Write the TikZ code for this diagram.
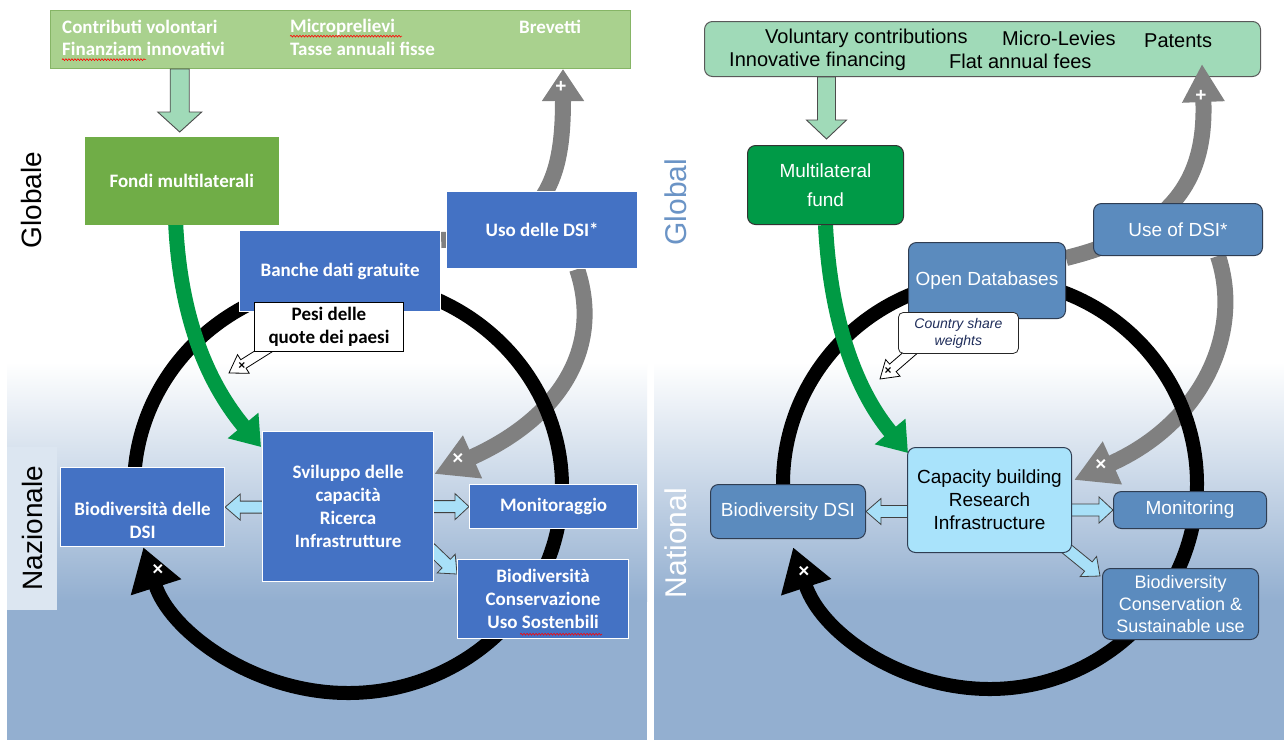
\documentclass[tikz,border=0pt]{standalone}
\usepackage{fontspec}
\newfontfamily\calib{Carlito}
\newfontfamily\arialf{Liberation Sans}
\usetikzlibrary{arrows.meta,calc,decorations.pathmorphing}

\pgfdeclarelayer{background}
\pgfdeclarelayer{flows}
\pgfsetlayers{background,flows,main}

\definecolor{itgreen}{HTML}{70AD47}
\definecolor{itlgreen}{HTML}{A9D18E}
\definecolor{itedge}{HTML}{86B566}
\definecolor{itblue}{HTML}{4472C4}
\definecolor{mint}{HTML}{A0DAB8}
\definecolor{flowgreen}{HTML}{009A44}
\definecolor{flowgray}{HTML}{808080}
\definecolor{skyblue}{HTML}{A8E0F8}
\definecolor{enblue}{HTML}{5B8BBE}
\definecolor{enedge}{HTML}{2F3D52}
\definecolor{capblue}{HTML}{A9E3FB}
\definecolor{engreen}{HTML}{009A47}
\definecolor{bgblue}{HTML}{93AFD0}
\definecolor{labblue}{HTML}{6B94C6}
\definecolor{labbox}{HTML}{DCE6F1}
\definecolor{navy}{HTML}{1F2D5A}

\newcommand{\itfont}{\calib\bfseries\fontsize{19}{23}\selectfont}
\newcommand{\enfont}{\arialf\fontsize{19}{23}\selectfont}

% block arrow: [style]{from}{to}{shaft half width}{head half width}{head length}
\newcommand{\blockarrow}[6][]{%
  \coordinate (neck) at ($(#3)!#6!(#2)$);
  \draw[#1] ($(#2)!#4!90:(#3)$) -- ($(neck)!#4!90:(#3)$) -- ($(neck)!#5!90:(#3)$)
    -- (#3) -- ($(neck)!#5!-90:(#3)$) -- ($(neck)!#4!-90:(#3)$) -- ($(#2)!#4!-90:(#3)$) -- cycle;%
}

\tikzset{
  itbox/.style={rectangle, anchor=north west, draw=white, line width=1.2pt,
    fill=itblue, text=white, font=\itfont, align=center, inner sep=1pt},
  enbox/.style={rectangle, rounded corners=8pt, anchor=north west, draw=enedge,
    line width=1pt, fill=enblue, text=white, font=\enfont, align=center, inner sep=1pt},
  ittext/.style={anchor=west, inner sep=0pt, text=white, font=\itfont},
  entext/.style={anchor=west, inner sep=0pt, text=black, font=\arialf\fontsize{20}{24}\selectfont},
  sidelabel/.style={rotate=90, inner sep=0pt},
  ring/.style={draw=black, line width=14pt, -{Triangle[width=50pt,length=42pt]}},
  grayflow/.style={draw=flowgray, line width=16pt, -{Triangle[width=40pt,length=32pt]}},
  greenflow/.style={draw=flowgreen, line width=15pt, -{Triangle[width=38pt,length=28pt]}},
  fatmint/.style={draw=black!70, line width=0.9pt, fill=mint},
  fatsky/.style={draw=black!75, line width=0.8pt, fill=skyblue},
  fatwhite/.style={draw=black, line width=0.8pt, fill=white},
  signmark/.style={inner sep=0pt, text=white, font=\arialf\bfseries\fontsize{19}{19}\selectfont},
  smallmark/.style={inner sep=0pt, text=black, font=\arialf\bfseries\fontsize{12}{12}\selectfont},
  squig/.style={draw=red, line width=0.6pt, decorate,
    decoration={snake, amplitude=0.9pt, segment length=3pt}}
}

\begin{document}
\begin{tikzpicture}[x=1pt, y=-1pt]
  \useasboundingbox (0,0) rectangle (1284,740);

  \begin{pgfonlayer}{background}
    % panels
    \fill[white] (0,0) rectangle (1284,740);
    \shade[top color=white, bottom color=bgblue] (7,362) rectangle (647,601);
    \fill[bgblue] (7,600) rectangle (647,740);
    \shade[top color=white, bottom color=bgblue] (654,362) rectangle (1284,601);
    \fill[bgblue] (654,600) rectangle (1284,740);

    % side labels
    \node[sidelabel, font=\arialf\fontsize{28}{30}\selectfont] (globale) at (31,200) {Globale};
    \node[sidelabel, fill=labbox, minimum width=163pt, minimum height=50pt,
      font=\arialf\fontsize{28}{30}\selectfont] (nazionale) at (32,528) {Nazionale};
    \node[sidelabel, text=labblue, font=\arialf\fontsize{30}{32}\selectfont] (global) at (676,202) {Global};
    \node[sidelabel, text=white, font=\arialf\fontsize{30}{32}\selectfont] (national) at (676,543) {National};

    % funding sources
    \node[rectangle, anchor=north west, draw=itedge, line width=1pt, fill=itlgreen,
      minimum width=580pt, minimum height=58pt] (ittop) at (50,10) {};
    \node[ittext] (contr) at (62,27) {Contributi volontari};
    \node[ittext] (fin) at (62,49) {Finanziam innovativi};
    \node[ittext] (micro) at (290,27) {Microprelievi};
    \node[ittext] (tasse) at (290,49) {Tasse annuali fisse};
    \node[ittext] (brev) at (519,27) {Brevetti};
    \draw[squig] ($(fin.base west)+(0,4)$) -- ++(84,0);
    \draw[squig] ($(micro.base west)+(0,4)$) -- ++(112,0);

    \node[enbox, fill=mint, draw=black!65, minimum width=556pt, minimum height=55pt] (entop) at (704,21) {};
    \node[entext] (vol) at (765,38) {Voluntary contributions};
    \node[entext] (levy) at (1002,38) {Micro-Levies};
    \node[entext] (pat) at (1144,41) {Patents};
    \node[entext] (innov) at (729,61) {Innovative financing};
    \node[entext] (flat) at (949,61) {Flat annual fees};
  \end{pgfonlayer}

  % Italian boxes
  \node[rectangle, anchor=north west, draw=itgreen, fill=itgreen, text=white, font=\itfont,
    minimum width=193pt, minimum height=87pt] (fondi) at (85,137) {Fondi multilaterali};
  \node[itbox, minimum width=201pt, minimum height=81pt] (banche) at (239,230) {Banche dati gratuite};
  \node[itbox, minimum width=191pt, minimum height=77pt] (uso) at (446,191) {Uso delle DSI*};
  \node[itbox, minimum width=171pt, minimum height=150pt] (svil) at (262,431)
    {Sviluppo delle\\capacità\\Ricerca\\Infrastrutture};
  \node[itbox, minimum width=164pt, minimum height=79pt] (bio) at (60,467)
    {\rule{0pt}{40pt}Biodiversità delle\\DSI};
  \node[itbox, minimum width=168pt, minimum height=44pt] (monit) at (469,484) {Monitoraggio};
  \node[itbox, minimum width=171pt, minimum height=79pt] (bcons) at (457,559)
    {Biodiversità\\Conservazione\\Uso Sostenbili};
  \node[rectangle, anchor=north west, draw=black, line width=1pt, fill=white, align=center,
    font=\calib\bfseries\fontsize{19}{23}\selectfont, inner sep=1pt,
    minimum width=149pt, minimum height=49pt] (pesi) at (254,302) {Pesi delle\\quote dei paesi};
  \draw[squig] ($(bcons.south)+(-23,-5)$) -- ++(82,0);

  % English boxes
  \node[enbox, fill=engreen, draw=black!80, font=\arialf\fontsize{19}{29}\selectfont,
    minimum width=156pt, minimum height=79pt] (mfund) at (747,145) {Multilateral\\fund};
  \node[enbox, minimum width=157pt, minimum height=76pt] (odb) at (908,242) {Open Databases};
  \node[enbox, minimum width=169pt, minimum height=52pt] (use) at (1093,203) {Use of DSI*};
  \node[enbox, fill=capblue, text=black, minimum width=164pt, minimum height=105pt] (cap) at (907,447)
    {Capacity building\\Research\\Infrastructure};
  \node[enbox, minimum width=155pt, minimum height=54pt] (bdsi) at (710,484) {Biodiversity DSI};
  \node[enbox, minimum width=153pt, minimum height=37pt] (mon) at (1113,491) {Monitoring};
  \node[enbox, font=\arialf\fontsize{18}{22}\selectfont, minimum width=156pt, minimum height=71pt] (rcons) at (1102,568)
    {Biodiversity\\Conservation \&\\Sustainable use};
  \node[rectangle, rounded corners=5pt, anchor=north west, draw=black!85, line width=0.8pt, fill=white,
    align=center, text=navy, font=\arialf\itshape\fontsize{14}{17}\selectfont, inner sep=1pt,
    minimum width=120pt, minimum height=41pt] (share) at (898,312) {Country share\\weights};

  \begin{pgfonlayer}{flows}
    % gray flows
    \draw[grayflow] ($(banche.north east)+(0,10)$) .. controls +(110,-2) and +(0,102) .. ($(ittop.south east)+(-68,0)$);
    \draw[grayflow, -{Triangle[width=44pt,length=42pt]}] ($(uso.south)+(35,0)$)
      .. controls +(25,75) and +(130,-58) .. ($(svil.north east)+(0,43)$);
    \draw[grayflow, -{Triangle[width=40pt,length=38pt]}] ($(odb.north east)+(0,16)$)
      .. controls +(115,-28) and +(4,107) .. ($(entop.south east)+(-59,-13)$);
    \draw[grayflow, -{Triangle[width=44pt,length=42pt]}] ($(use.south)+(40,0)$)
      .. controls +(25,75) and +(130,-58) .. ($(cap.north east)+(2,33)$);

    % cycles
    \coordinate (itc) at (348,487);
    \draw[ring] (itc) ++(184:214 and 206) arc[start angle=184, end angle=523, x radius=214, y radius=206];
    \coordinate (enc) at (990,484);
    \draw[ring] (enc) ++(178:207 and 205) arc[start angle=178, end angle=522, x radius=207, y radius=205];

    % green flows
    \draw[greenflow] ($(fondi.south)+(-6,0)$) .. controls +(5,100) and +(-50,-60) .. ($(svil.north west)+(-1,16)$);
    \draw[greenflow] (mfund.south) .. controls +(5,100) and +(-50,-60) .. ($(cap.north west)+(1,6)$);

    % funding arrows
    \coordinate (fonditop) at ($(fondi.north)+(-2,-5)$);
    \coordinate (ittopout) at (fonditop |- ittop.south);
    \blockarrow[fatmint]{ittopout}{fonditop}{9.5pt}{22pt}{20pt}
    \coordinate (mfundtop) at ($(mfund.north)+(1,-6)$);
    \coordinate (entopout) at (mfundtop |- entop.south);
    \blockarrow[fatmint]{entopout}{mfundtop}{9pt}{20pt}{19pt}

    % outputs
    \coordinate (svilw) at ($(svil.west |- bio.east)+(4,0)$);
    \blockarrow[fatsky]{svilw}{bio.east}{6pt}{13pt}{15pt}
    \coordinate (svile) at ($(svil.east |- monit.west)+(-4,0)$);
    \blockarrow[fatsky]{svile}{monit.west}{6pt}{13pt}{14pt}
    \coordinate (svilse) at ($(svil.south east)+(-4,-34)$);
    \coordinate (bconsnw) at ($(bcons.north west)+(0,15)$);
    \blockarrow[fatsky]{svilse}{bconsnw}{6pt}{13pt}{15pt}

    \coordinate (capw) at ($(cap.west |- bdsi.east)+(4,0)$);
    \blockarrow[fatsky]{capw}{bdsi.east}{6pt}{13pt}{15pt}
    \coordinate (cape) at ($(cap.east |- mon.west)+(-4,0)$);
    \blockarrow[fatsky]{cape}{mon.west}{6pt}{13pt}{14pt}
    \coordinate (capse) at ($(cap.south east)+(-10,-8)$);
    \coordinate (rconsnw) at ($(rcons.north west)+(-2,8)$);
    \blockarrow[fatsky]{capse}{rconsnw}{6pt}{13pt}{15pt}

    % callout pointers
    \coordinate (pesitail) at ($(pesi.south west)+(18,-6)$);
    \coordinate (pesitip) at (229,373);
    \blockarrow[fatwhite]{pesitail}{pesitip}{5pt}{11pt}{17pt}
    \coordinate (sharetail) at ($(share.south west)+(18,-6)$);
    \coordinate (sharetip) at (880,379);
    \blockarrow[fatwhite]{sharetail}{sharetip}{5pt}{11pt}{17pt}
  \end{pgfonlayer}

  % signs
  \node[signmark] (xitring) at (158,570) {×};
  \node[signmark] (plusit) at (561,87) {+};
  \node[signmark] (xitgray) at (458,459) {×};
  \node[smallmark] (xpesi) at (242,366) {×};
  \node[signmark] (xenring) at (804,572) {×};
  \node[signmark] (plusen) at (1201,96) {+};
  \node[signmark] (xengray) at (1101,465) {×};
  \node[smallmark] (xshare) at (888,371) {×};
\end{tikzpicture}
\end{document}
